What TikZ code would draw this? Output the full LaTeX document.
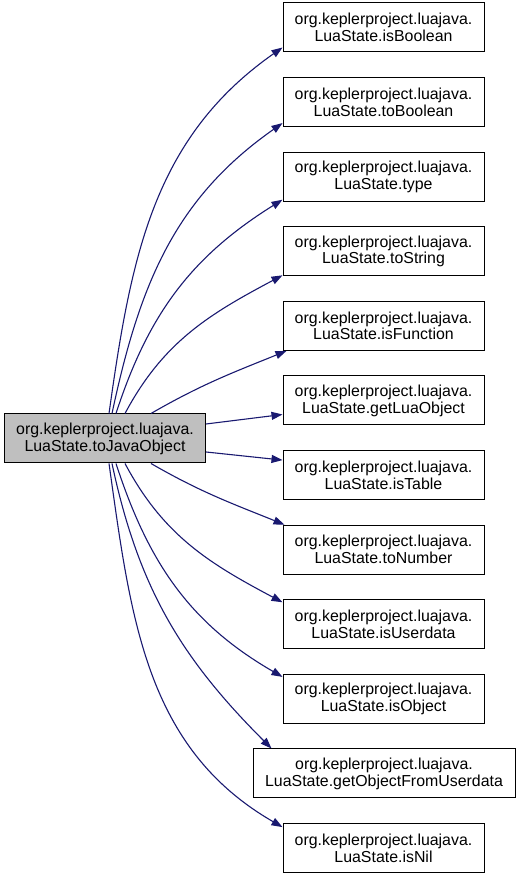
\documentclass[tikz,border=0pt]{standalone}
\usepackage{fontspec}
\setmainfont{Liberation Sans}
\usetikzlibrary{arrows.meta}
\definecolor{callblue}{RGB}{25,25,112}
\definecolor{boxgray}{RGB}{191,191,191}
\tikzset{
	fn/.style={draw=black, line width=1pt, minimum width=201pt, minimum height=49pt, inner sep=0pt, align=center, font=\fontsize{15.9}{16.8}\selectfont},
	call/.style={draw=callblue, line width=1.1pt, -{Triangle[length=11pt,width=8pt]}}
}
\begin{document}
\begin{tikzpicture}[x=1pt,y=1pt]
				\useasboundingbox (0,0) rectangle (520,880);
				\node[fn, fill=boxgray] (toJava) at (105,441.5) {org.keplerproject.luajava.\\LuaState.toJavaObject};
				\node[fn] (isBoolean) at (383.5,852.5) {org.keplerproject.luajava.\\LuaState.isBoolean};
				\node[fn] (toBoolean) at (383.5,777.9) {org.keplerproject.luajava.\\LuaState.toBoolean};
				\node[fn] (type) at (383.5,703.3) {org.keplerproject.luajava.\\LuaState.type};
				\node[fn] (toString) at (383.5,628.7) {org.keplerproject.luajava.\\LuaState.toString};
				\node[fn] (isFunction) at (383.5,554.1) {org.keplerproject.luajava.\\LuaState.isFunction};
				\node[fn] (getLuaObject) at (383.5,479.5) {org.keplerproject.luajava.\\LuaState.getLuaObject};
				\node[fn] (isTable) at (383.5,404.9) {org.keplerproject.luajava.\\LuaState.isTable};
				\node[fn] (toNumber) at (383.5,330.3) {org.keplerproject.luajava.\\LuaState.toNumber};
				\node[fn] (isUserdata) at (383.5,255.7) {org.keplerproject.luajava.\\LuaState.isUserdata};
				\node[fn] (isObject) at (383.5,181.1) {org.keplerproject.luajava.\\LuaState.isObject};
				\node[fn, minimum width=262pt] (getObjFromUd) at (384,106.5) {org.keplerproject.luajava.\\LuaState.getObjectFromUserdata};
				\node[fn] (isNil) at (383.5,31.9) {org.keplerproject.luajava.\\LuaState.isNil};
				\draw[call] ([xshift=4pt]toJava.north) to[out=82,in=215] ([yshift=5pt]isBoolean.south west);
				\draw[call] ([xshift=7pt]toJava.north) to[out=78,in=215] ([yshift=4pt]toBoolean.south west);
				\draw[call] ([xshift=11pt]toJava.north) to[out=72,in=212] ([yshift=2pt]type.south west);
				\draw[call] ([xshift=20pt]toJava.north) to[out=62,in=208] ([yshift=1pt]toString.south west);
				\draw[call] ([xshift=46pt]toJava.north) to[out=30,in=202] ([xshift=4pt]isFunction.south west);
				\draw[call] ([yshift=14.5pt]toJava.east) -- ([yshift=11pt]getLuaObject.south west);
				\draw[call] ([yshift=-13.5pt]toJava.east) -- ([yshift=-10pt]isTable.north west);
				\draw[call] ([xshift=46pt]toJava.south) to[out=-30,in=158] ([xshift=2pt]toNumber.north west);
				\draw[call] ([xshift=20pt]toJava.south) to[out=-62,in=152] ([yshift=-3pt]isUserdata.north west);
				\draw[call] ([xshift=11pt]toJava.south) to[out=-72,in=150] ([yshift=-3pt]isObject.north west);
				\draw[call] ([xshift=7pt]toJava.south) to[out=-78,in=135] ([xshift=19pt]getObjFromUd.north west);
				\draw[call] ([xshift=4pt]toJava.south) to[out=-82,in=150] ([yshift=-4pt]isNil.north west);
\end{tikzpicture}
\end{document}
